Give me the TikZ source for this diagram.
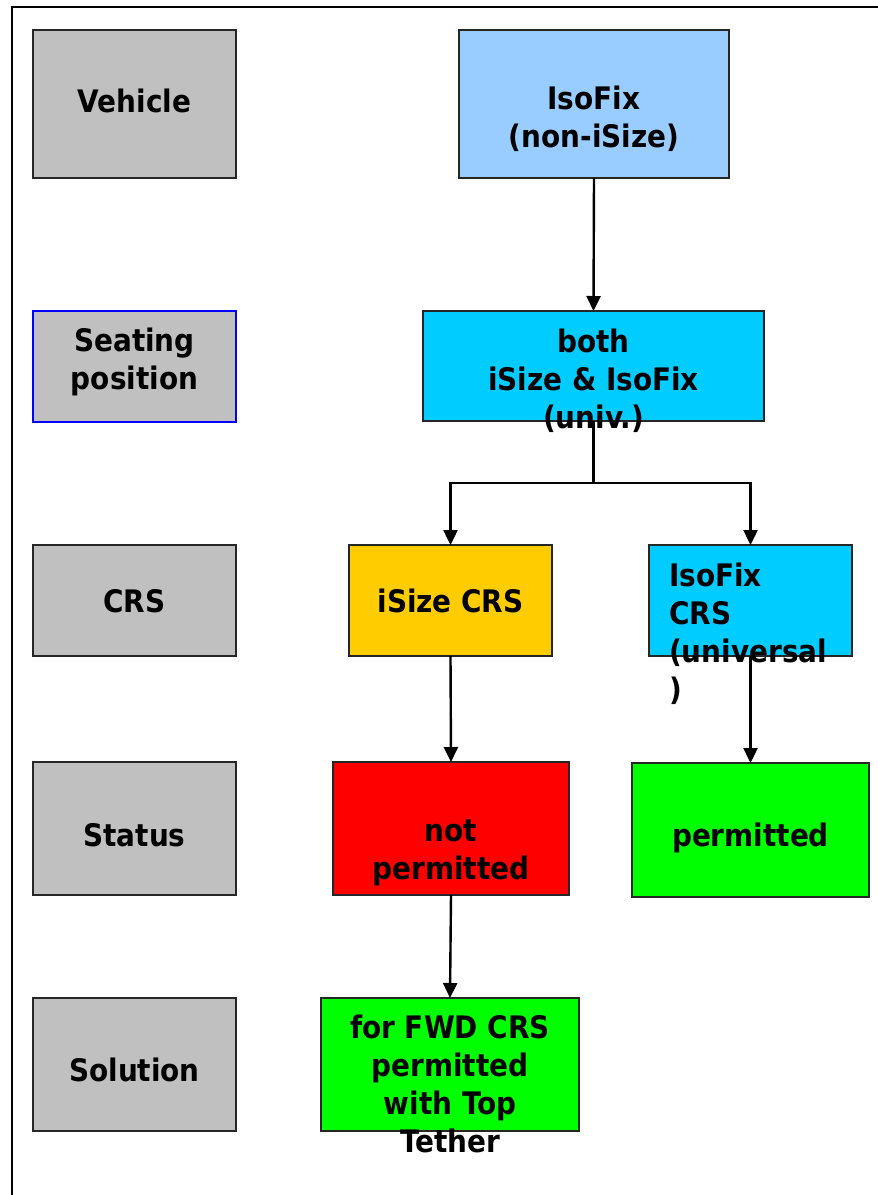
\documentclass[tikz,border=0pt]{standalone}
\usepackage{fontspec}
\setmainfont{DejaVu Sans Condensed}
\usetikzlibrary{arrows.meta}
\definecolor{rowgray}{HTML}{C0C0C0}
\definecolor{paleblue}{HTML}{99CCFF}
\definecolor{skyblue}{HTML}{00CCFF}
\definecolor{gold}{HTML}{FFCC00}
\definecolor{stopred}{HTML}{FF0000}
\definecolor{gogreen}{HTML}{00FF00}
\begin{document}
\begin{tikzpicture}[x=1pt,y=-1pt,
	box/.style={draw=black!85,line width=1.6pt,inner sep=0pt,outer sep=0pt,minimum width=203pt,minimum height=111pt},
	rowbox/.style={box,fill=rowgray},
	txt/.style={anchor=north,inner sep=0pt,align=center,font={\fontsize{31}{38}\selectfont\bfseries},execute at begin node=\strut},
	link/.style={line width=2.4pt,-{Triangle[length=15pt,width=14pt]}}]
			\useasboundingbox (0,0) rectangle (878,1195);
			\draw[line width=1.5pt] (12,1195) -- (12,7) -- (878,7);
			\node[rowbox,minimum height=148pt] (vehicle) at (134.5,104) {};
			\node[rowbox,draw=blue] (seat) at (134.5,366.5) {};
			\node[rowbox] (crs) at (134.5,600.5) {};
			\node[rowbox,minimum height=133pt] (status) at (134.5,828.5) {};
			\node[rowbox,minimum height=133pt] (solution) at (134.5,1064.5) {};
			\node[box,fill=paleblue,minimum width=270pt,minimum height=148pt] (isofix) at (594,104) {};
			\node[box,fill=skyblue,minimum width=341pt,minimum height=110pt] (both) at (593.5,366) {};
			\node[box,fill=gold] (isizecrs) at (450.5,600.5) {};
			\node[box,fill=skyblue] (isofixcrs) at (750.5,600.5) {};
			\node[box,fill=stopred,minimum width=236pt,minimum height=133pt] (notperm) at (451,828.5) {};
			\node[box,fill=gogreen,minimum width=237pt,minimum height=134pt] (perm) at (750.5,830) {};
			\node[box,fill=gogreen,minimum width=258pt,minimum height=133pt] (fwd) at (450,1064.5) {};
			\coordinate (split) at (593.5,483);
			\draw[link] (isofix.south) -- (both.north);
			\draw[link] (both.south) -- (split) -| (isizecrs.north);
			\draw[link] (split) -| (isofixcrs.north);
			\draw[link] (isizecrs.south) -- (notperm.north);
			\draw[link] (isofixcrs.south) -- (perm.north);
			\draw[link] (notperm.south) -- (fwd.north);
			\node[txt] (vehicletxt) at (134.5,86) {Vehicle};
			\node[txt] (seattxt) at (134.5,328) {Seating\\position};
			\node[txt] (crstxt) at (134.5,586) {CRS};
			\node[txt] (statustxt) at (134.5,819.5) {Status};
			\node[txt] (solutiontxt) at (134.5,1054.5) {Solution};
			\node[txt] (isofixtxt) at (594,86) {IsoFix\\(non-iSize)};
			\node[txt] (bothtxt) at (593.5,329) {both\\iSize \& IsoFix\\(univ.)};
			\node[txt] (isizecrstxt) at (450.5,585.5) {iSize CRS};
			\node[txt,anchor=north west,align=left] (isofixcrstxt) at (669,563) {IsoFix\\CRS\\(universal\\)};
			\node[txt] (notpermtxt) at (451,819.5) {not\\permitted};
			\node[txt] (permtxt) at (750.5,819.5) {permitted};
			\node[txt] (fwdtxt) at (450,1014.5) {for FWD CRS\\permitted\\with Top\\Tether};
\end{tikzpicture}
\end{document}
